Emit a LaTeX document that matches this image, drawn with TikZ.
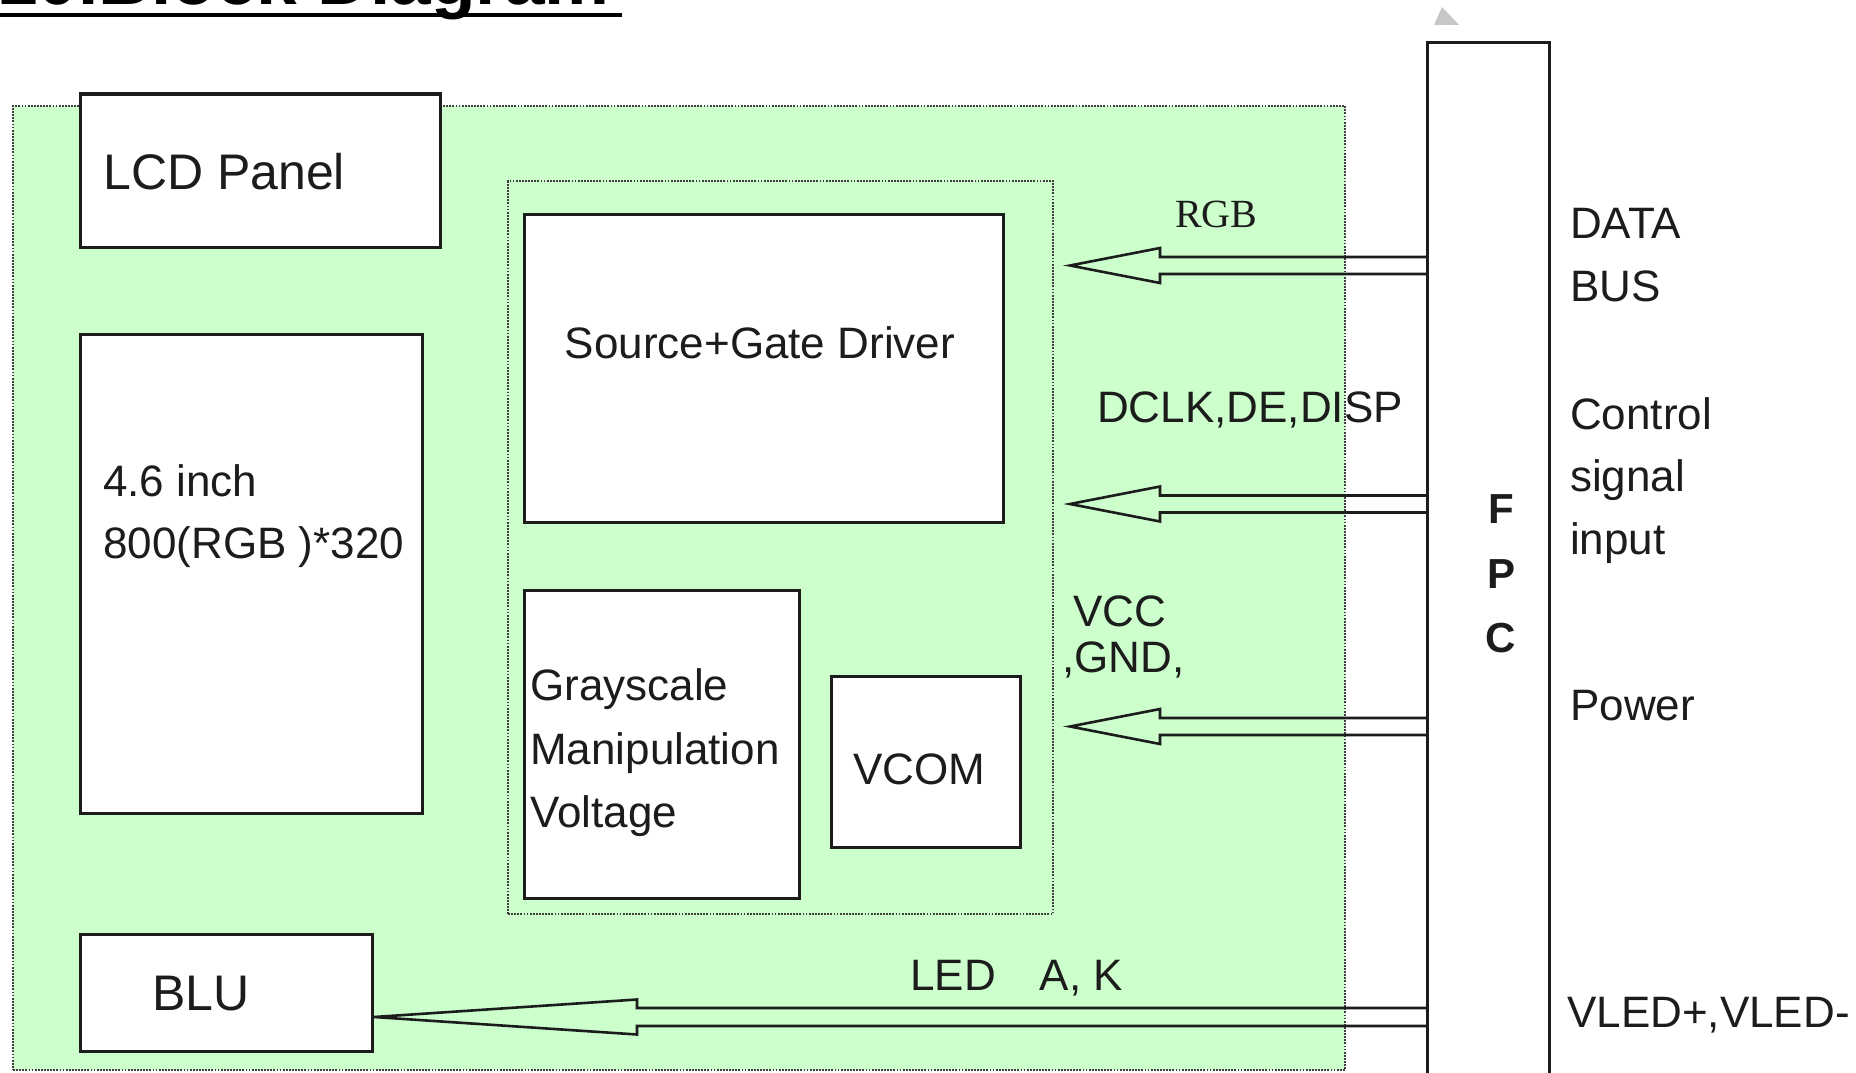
\documentclass[tikz,border=0pt]{standalone}
\usepackage{fontspec}
\setmainfont{Liberation Sans}
\newfontfamily\rgbserif{Liberation Serif}
\usetikzlibrary{calc}
\definecolor{modgreen}{RGB}{204,255,204}
\definecolor{lineblk}{RGB}{28,28,28}
\newcommand\hollowarrow[4]{%
  \draw[arrowline] ($(fpc.west |- #1)+(0,-#3)$) -- ($(#1)+(#2,-#3)$) -- ($(#1)+(#2,-#4)$)
    -- (#1) -- ($(#1)+(#2,#4)$) -- ($(#1)+(#2,#3)$) -- ($(fpc.west |- #1)+(0,#3)$);}
\begin{document}
\begin{tikzpicture}[x=1pt,y=-1pt,
  box/.style={draw=lineblk, line width=3pt, fill=white, inner sep=0pt, outer sep=0pt, rectangle},
  dotbox/.style={draw=lineblk!85, line width=1.8pt, dash pattern=on 1.8pt off 1.3pt, inner sep=0pt, outer sep=0pt, rectangle},
  lbl/.style={inner sep=0pt, anchor=base west, font=\fontsize{44}{53}\selectfont, text=lineblk},
  clbl/.style={lbl, anchor=base},
  biglbl/.style={lbl, font=\fontsize{50}{60}\selectfont},
  fpclbl/.style={inner sep=0pt, anchor=base, font=\fontsize{42}{50}\selectfont\bfseries, text=lineblk},
  arrowline/.style={draw=lineblk, line width=2.6pt, line join=miter}]
\useasboundingbox (0,0) rectangle (1856,1073);
% title (cut off at the top)
\node[inner sep=0pt, anchor=base west, font=\fontsize{73}{80}\selectfont\bfseries] (title) at (-3,5) {10.Block Diagram};
\draw[line width=4.5pt] ($(title.base west)+(3,10)$) -- ($(title.base east)+(12,10)$);
% leftover mark
\fill[black!22] (1434,25) -- (1442,7) -- (1459,25) -- cycle;
% module background
\node[dotbox, fill=modgreen, minimum width=1332pt, minimum height=964pt] (module) at (679,588) {};
\node[dotbox, minimum width=545pt, minimum height=733pt] (ic) at (780.5,547.5) {};
% boxes
\node[box, minimum width=360pt, minimum height=153pt] (lcd) at (260,170.5) {};
\node[box, minimum width=342pt, minimum height=479pt] (panel) at (251.5,573.5) {};
\node[box, minimum width=479pt, minimum height=308pt] (sgd) at (763.5,368) {};
\node[box, minimum width=275pt, minimum height=308pt] (gray) at (661.5,744) {};
\node[box, minimum width=189pt, minimum height=171pt] (vcom) at (925.5,761.5) {};
\node[box, minimum width=292pt, minimum height=117pt] (blu) at (226,992.5) {};
\node[box, minimum width=122pt, minimum height=1047pt] (fpc) at (1488,566.5) {};
% box texts
\node[biglbl] (lcdt) at (103,189) {LCD Panel};
\node[lbl] (panelt1) at (103,496) {4.6 inch};
\node[lbl] (panelt2) at (103,558) {800(RGB )*320};
\node[clbl] (sgdt) at (760,358) {Source+Gate Driver};
\node[lbl] (grayt1) at (530,700) {Grayscale};
\node[lbl] (grayt2) at (530,764) {Manipulation};
\node[lbl] (grayt3) at (530,827) {Voltage};
\node[clbl] (vcomt) at (919,784) {VCOM};
\node[biglbl, anchor=base] (blut) at (201,1010) {BLU};
\node[fpclbl] (fpcf) at (1501,523) {F};
\node[fpclbl] (fpcp) at (1501,588) {P};
\node[fpclbl] (fpcc) at (1501,652) {C};
% arrows
\coordinate (tRGB) at (1070,265.5);
\coordinate (tCTL) at (1070,504);
\coordinate (tPWR) at (1070,726.5);
\coordinate (tLED) at (374,1017);
\hollowarrow{tRGB}{90}{8.5}{17.5}
\hollowarrow{tCTL}{90}{8.5}{17.5}
\hollowarrow{tPWR}{90}{8.5}{17.5}
\hollowarrow{tLED}{263}{9}{17.5}
% signal labels
\node[lbl, font=\fontsize{40}{48}\rgbserif] (rgbt) at (1175,227) {RGB};
\node[lbl] (ctlt) at (1097,422) {DCLK,DE,DISP};
\node[lbl] (vcct) at (1073,626) {VCC};
\node[lbl] (gndt) at (1062,672) {,GND,\,};
\node[lbl] (ledt) at (910,990) {LED\hspace{44pt}A, K};
% right labels
\node[lbl] (r1) at (1570,238) {DATA};
\node[lbl] (r2) at (1570,301) {BUS};
\node[lbl] (r3) at (1570,429) {Control};
\node[lbl] (r4) at (1570,491) {signal};
\node[lbl] (r5) at (1570,554) {input};
\node[lbl] (r6) at (1570,720) {Power};
\node[lbl] (r7) at (1567,1027) {VLED+,VLED-};
\end{tikzpicture}
\end{document}
